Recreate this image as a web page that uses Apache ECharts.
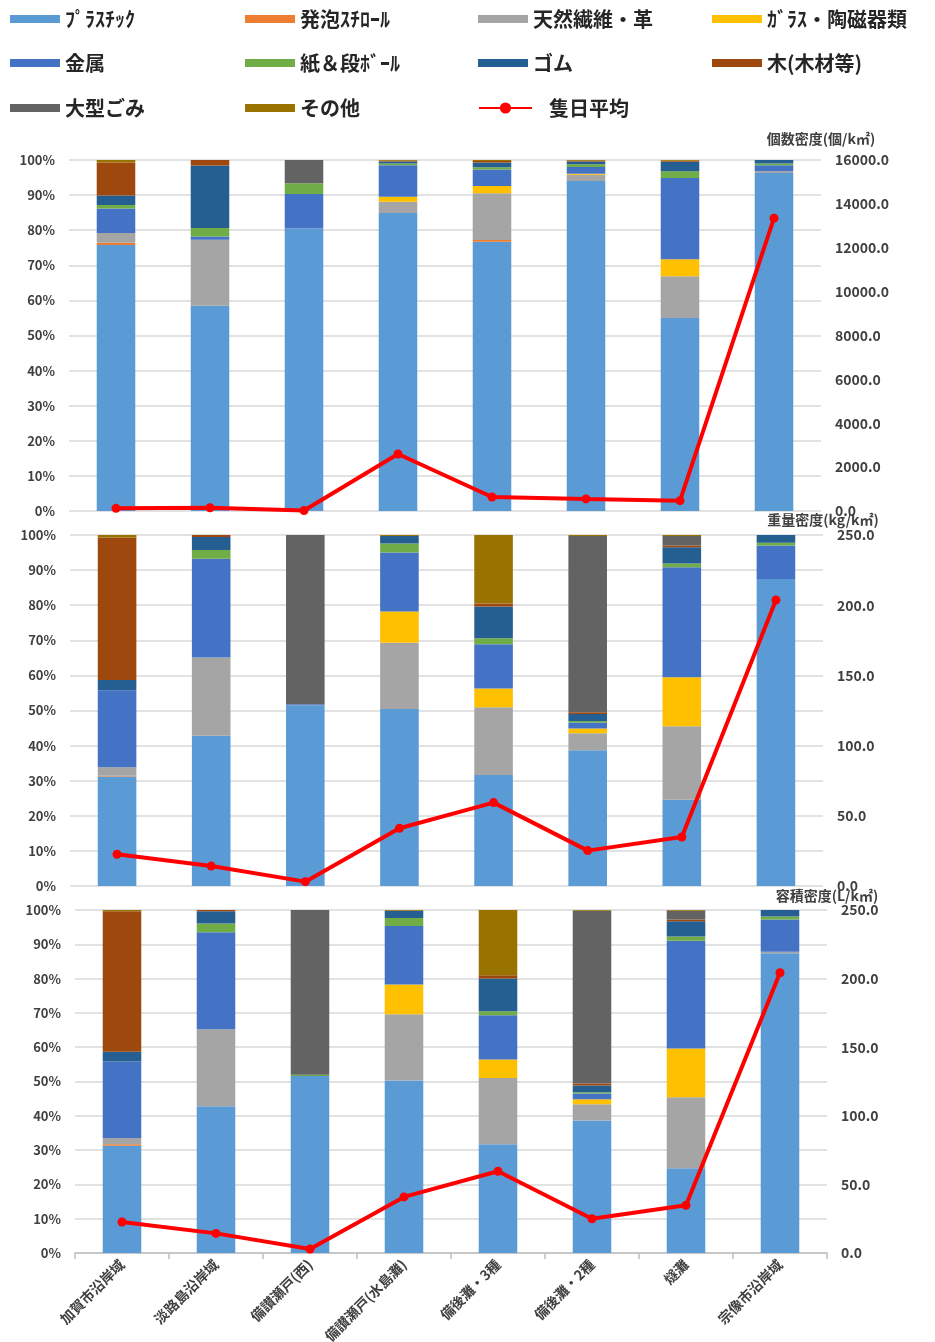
<!DOCTYPE html>
<html>
<head>
<meta charset="utf-8">
<script src="https://cdn.jsdelivr.net/npm/echarts@6/dist/echarts.min.js"></script>
<style>
  html, body { margin: 0; padding: 0; background: #fff; }
  #chart { width: 935px; height: 1342px; }
</style>
</head>
<body>
<div id="chart"></div>
<script>
// Survey areas (x axis)
const categories = ['加賀市沿岸域', '淡路島沿岸域', '備讃瀬戸(西)', '備讃瀬戸(水島灘)', '備後灘・3種', '備後灘・2種', '燧灘', '宗像市沿岸域'];

// Litter materials, stacked bottom to top
const materials = ['ﾌﾟﾗｽﾁｯｸ', '発泡ｽﾁﾛｰﾙ', '天然繊維・革', 'ｶﾞﾗｽ・陶磁器類', '金属', '紙＆段ﾎﾞｰﾙ', 'ゴム', '木(木材等)', '大型ごみ', 'その他'];
const materialColors = ['#5B9BD5', '#ED7D31', '#A5A5A5', '#FFC000', '#4472C4', '#70AD47', '#255E91', '#9E480E', '#636363', '#997300'];
const lineName = '隻日平均';

// Share by count (%), one row per material
const countShare = [
  [75.8, 58.5, 80.5, 84.9, 76.7, 94.0, 55.0, 96.3],
  [0.6, 0, 0, 0, 0.5, 0, 0, 0],
  [2.8, 18.8, 0, 3.2, 13.3, 1.8, 11.9, 0.5],
  [0, 0, 0, 1.4, 2.1, 0.3, 4.8, 0],
  [7.0, 0.9, 9.8, 9.0, 4.7, 1.9, 23.2, 1.7],
  [1.0, 2.4, 3.1, 0.5, 0.6, 0.8, 1.9, 0.5],
  [2.7, 17.8, 0, 0.6, 1.4, 0.8, 2.7, 1.0],
  [9.4, 1.6, 0, 0.2, 0.4, 0.2, 0.3, 0],
  [0, 0, 6.6, 0, 0, 0, 0, 0],
  [0.7, 0, 0, 0.2, 0.3, 0.2, 0.2, 0]
];

// Share by weight (%)
const weightShare = [
  [31.2, 42.8, 51.5, 50.4, 31.6, 38.7, 24.6, 87.5],
  [0.2, 0, 0, 0, 0, 0, 0, 0],
  [2.4, 22.3, 0, 18.9, 19.3, 4.8, 20.9, 0],
  [0, 0, 0, 8.9, 5.4, 1.4, 14.0, 0],
  [22.0, 28.1, 0.3, 16.8, 12.6, 1.7, 31.3, 9.5],
  [0, 2.5, 0, 2.6, 1.7, 0.4, 1.1, 0.8],
  [2.9, 3.7, 0, 2.1, 9.0, 2.0, 4.6, 2.2],
  [40.6, 0.6, 0, 0, 0.9, 0.5, 0.5, 0],
  [0, 0, 48.2, 0, 0, 50.2, 2.7, 0],
  [0.7, 0, 0, 0.3, 19.5, 0.3, 0.3, 0]
];

// Share by volume (%)
const volumeShare = [
  [31.3, 42.8, 51.6, 50.3, 31.7, 38.6, 24.7, 87.4],
  [0.4, 0, 0, 0, 0, 0, 0, 0],
  [1.8, 22.4, 0, 19.3, 19.3, 4.8, 20.7, 0.4],
  [0, 0, 0, 8.7, 5.4, 1.4, 14.2, 0],
  [22.3, 28.3, 0, 17.0, 12.9, 1.7, 31.4, 9.4],
  [0, 2.6, 0.4, 2.4, 1.2, 0.4, 1.3, 0.9],
  [2.9, 3.5, 0, 2.1, 9.5, 1.9, 4.4, 1.9],
  [40.9, 0.4, 0, 0, 1.0, 0.6, 0.5, 0],
  [0, 0, 48.0, 0, 0, 50.4, 2.6, 0],
  [0.4, 0, 0, 0.2, 19.0, 0.2, 0.2, 0]
];

// Densities (average per vessel-day)
const countDensity = [120, 150, 20, 2600, 640, 550, 470, 13350];     // 個/k㎡
const weightDensity = [22.6, 14.2, 3.1, 41.1, 59.4, 25.2, 34.9, 203.7]; // kg/k㎡
const volumeDensity = [22.6, 14.3, 2.9, 40.9, 59.6, 25.0, 34.8, 204.3]; // L/k㎡

const FONT = '"Noto Sans CJK JP", "Noto Sans", sans-serif';
const TXT = '#404040';

const panels = [
  { share: countShare, density: countDensity, name: '個数密度(個/k㎡)', max: 16000, interval: 2000, nameGap: 14,
    grid: { left: 69, right: 114, top: 160, bottom: 831 } },
  { share: weightShare, density: weightDensity, name: '重量密度(kg/k㎡)', max: 250, interval: 50, nameGap: 8,
    grid: { left: 70, right: 112, top: 535, bottom: 456 } },
  { share: volumeShare, density: volumeDensity, name: '容積密度(L/k㎡)', max: 250, interval: 50, nameGap: 7,
    grid: { left: 75, right: 108, top: 910, bottom: 89 } }
];

const grids = [], xAxes = [], yAxes = [], series = [];
panels.forEach((p, i) => {
  const last = i === panels.length - 1;
  grids.push(Object.assign({ containLabel: false, outerBoundsMode: 'none' }, p.grid));
  xAxes.push({
    type: 'category', gridIndex: i, data: categories,
    axisLine: { show: last, lineStyle: { color: '#BFBFBF', width: 1.5 } },
    axisTick: { show: last, length: 6, lineStyle: { color: '#BFBFBF', width: 1.5 } },
    axisLabel: {
      show: last, rotate: 45, interval: 0, margin: 9,
      color: TXT, fontFamily: FONT, fontWeight: 'bold', fontSize: 14
    }
  });
  yAxes.push({
    type: 'value', gridIndex: i, min: 0, max: 100, interval: 10,
    axisLabel: { formatter: '{value}%', color: TXT, fontFamily: FONT, fontWeight: 'bold', fontSize: 13, margin: 14 },
    axisLine: { show: false }, axisTick: { show: false },
    splitLine: { lineStyle: { color: '#D9D9D9', width: 1.5 } }
  });
  yAxes.push({
    type: 'value', gridIndex: i, position: 'right', min: 0, max: p.max, interval: p.interval,
    name: p.name, nameLocation: 'end', nameGap: p.nameGap,
    nameTextStyle: { color: TXT, fontFamily: FONT, fontWeight: 'bold', fontSize: 14, align: 'center' },
    axisLabel: { formatter: v => v.toFixed(1), color: TXT, fontFamily: FONT, fontWeight: 'bold', fontSize: 14, margin: 14 },
    axisLine: { show: false }, axisTick: { show: false }, splitLine: { show: false }
  });
  materials.forEach((m, k) => {
    series.push({
      name: m, type: 'bar', stack: 'share' + i, xAxisIndex: i, yAxisIndex: 2 * i,
      barWidth: '41%', data: p.share[k],
      itemStyle: { color: materialColors[k] }
    });
  });
  series.push({
    name: lineName, type: 'line', xAxisIndex: i, yAxisIndex: 2 * i + 1, data: p.density,
    symbol: 'circle', symbolSize: 9, z: 5,
    lineStyle: { color: '#FF0000', width: 4 },
    itemStyle: { color: '#FF0000' }
  });
});

// Legend laid out in a 4-column grid, one component per entry
const legendCells = [
  [materials[0], 10, 21], [materials[1], 245, 21], [materials[2], 478, 21], [materials[3], 712, 21],
  [materials[4], 10, 65], [materials[5], 245, 65], [materials[6], 478, 65], [materials[7], 712, 65],
  [materials[8], 10, 110], [materials[9], 245, 110], [lineName, 478, 110]
];
const legends = legendCells.map(([name, x, y]) => {
  const isLine = name === lineName;
  return {
    data: [name], left: x, top: y - 12, itemWidth: isLine ? 53 : 50, itemHeight: isLine ? 14 : 8,
    itemGap: 0, selectedMode: false, padding: 0,
    textStyle: { color: '#262626', fontFamily: FONT, fontWeight: 'bold', fontSize: 20,
      padding: isLine ? [0, 0, 0, 12] : 0 },
    icon: isLine ? undefined : 'rect'
  };
});

const chart = echarts.init(document.getElementById('chart'), null, { renderer: 'canvas' });
chart.setOption({
  animation: false,
  backgroundColor: '#fff',
  legend: legends,
  grid: grids,
  xAxis: xAxes,
  yAxis: yAxes,
  series: series
});
</script>
</body>
</html>
